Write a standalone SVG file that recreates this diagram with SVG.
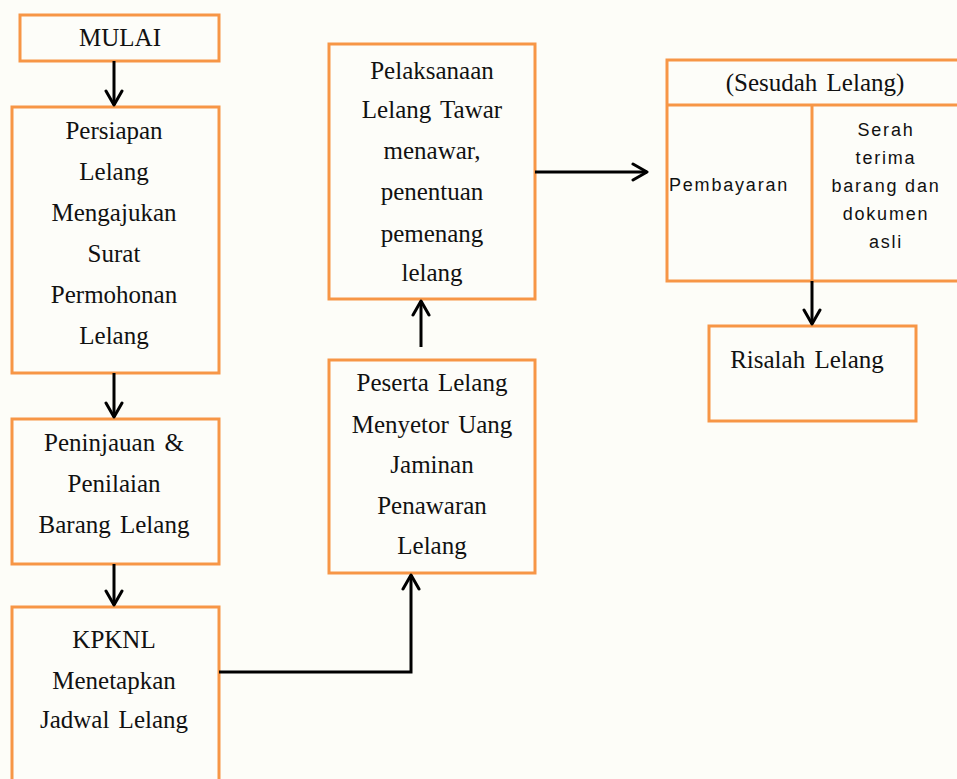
<svg xmlns="http://www.w3.org/2000/svg" width="957" height="779" viewBox="0 0 957 779">
<defs>
<marker id="arr" viewBox="0 0 20 20" refX="18" refY="10" markerWidth="20" markerHeight="20" markerUnits="userSpaceOnUse" orient="auto">
<path d="M4,2 L18,10 L4,18" fill="none" stroke="#000" stroke-width="3" stroke-linecap="round" stroke-linejoin="round"/>
</marker>
<style>
.box{fill:#fdfdf9;stroke:#f79646;stroke-width:3}
.t{font-family:"Liberation Serif","Times New Roman",serif;font-size:25px;fill:#111;text-anchor:middle;word-spacing:3px}
.s{font-family:"Liberation Sans",Arial,sans-serif;font-size:18px;fill:#111;text-anchor:middle;letter-spacing:1.8px}
.c{fill:none;stroke:#000;stroke-width:3;marker-end:url(#arr)}
</style>
</defs>
<rect width="957" height="779" fill="#fdfdf8"/>
<g id="mulai"><rect class="box" x="20" y="15" width="199" height="46"/><text class="t" x="120" y="46">MULAI</text></g>
<g id="persiapan"><rect class="box" x="12" y="107" width="207" height="266"/>
<text class="t" x="114" y="139">Persiapan</text><text class="t" x="114" y="180">Lelang</text><text class="t" x="114" y="221">Mengajukan</text><text class="t" x="114" y="262">Surat</text><text class="t" x="114" y="303">Permohonan</text><text class="t" x="114" y="344">Lelang</text></g>
<g id="peninjauan"><rect class="box" x="12" y="419" width="207" height="145"/>
<text class="t" x="114" y="451">Peninjauan &amp;</text><text class="t" x="114" y="492">Penilaian</text><text class="t" x="114" y="533">Barang Lelang</text></g>
<g id="kpknl"><rect class="box" x="12" y="607" width="207" height="190"/>
<text class="t" x="114" y="648">KPKNL</text><text class="t" x="114" y="689">Menetapkan</text><text class="t" x="114" y="728">Jadwal Lelang</text></g>
<g id="peserta"><rect class="box" x="329" y="360" width="206" height="213"/>
<text class="t" x="432" y="391">Peserta Lelang</text><text class="t" x="432" y="433">Menyetor Uang</text><text class="t" x="432" y="473">Jaminan</text><text class="t" x="432" y="514">Penawaran</text><text class="t" x="432" y="554">Lelang</text></g>
<g id="pelaksanaan"><rect class="box" x="329" y="44" width="206" height="255"/>
<text class="t" x="432" y="79">Pelaksanaan</text><text class="t" x="432" y="118">Lelang Tawar</text><text class="t" x="432" y="159">menawar,</text><text class="t" x="432" y="200">penentuan</text><text class="t" x="432" y="242">pemenang</text><text class="t" x="432" y="281">lelang</text></g>
<g id="sesudah"><rect class="box" x="667" y="60" width="296" height="221"/>
<line x1="667" y1="105" x2="963" y2="105" stroke="#f79646" stroke-width="3"/>
<line x1="812" y1="105" x2="812" y2="281" stroke="#f79646" stroke-width="3"/>
<text class="t" x="815" y="91">(Sesudah Lelang)</text>
<text class="s" x="669" y="191" style="text-anchor:start">Pembayaran</text>
<text class="s" x="886" y="136">Serah</text><text class="s" x="886" y="164">terima</text><text class="s" x="886" y="192">barang dan</text><text class="s" x="886" y="220">dokumen</text><text class="s" x="886" y="248">asli</text></g>
<g id="risalah"><rect class="box" x="709" y="326" width="207" height="95"/><text class="t" x="807" y="368">Risalah Lelang</text></g>
<g id="connectors">
<path class="c" d="M114,61 V105"/>
<path class="c" d="M114,373 V417"/>
<path class="c" d="M114,564 V605"/>
<path class="c" d="M219,672 H411 V575"/>
<path class="c" d="M421,347 V301"/>
<path class="c" d="M535,172 H647"/>
<path class="c" d="M812,281 V324"/>
</g>
</svg>
